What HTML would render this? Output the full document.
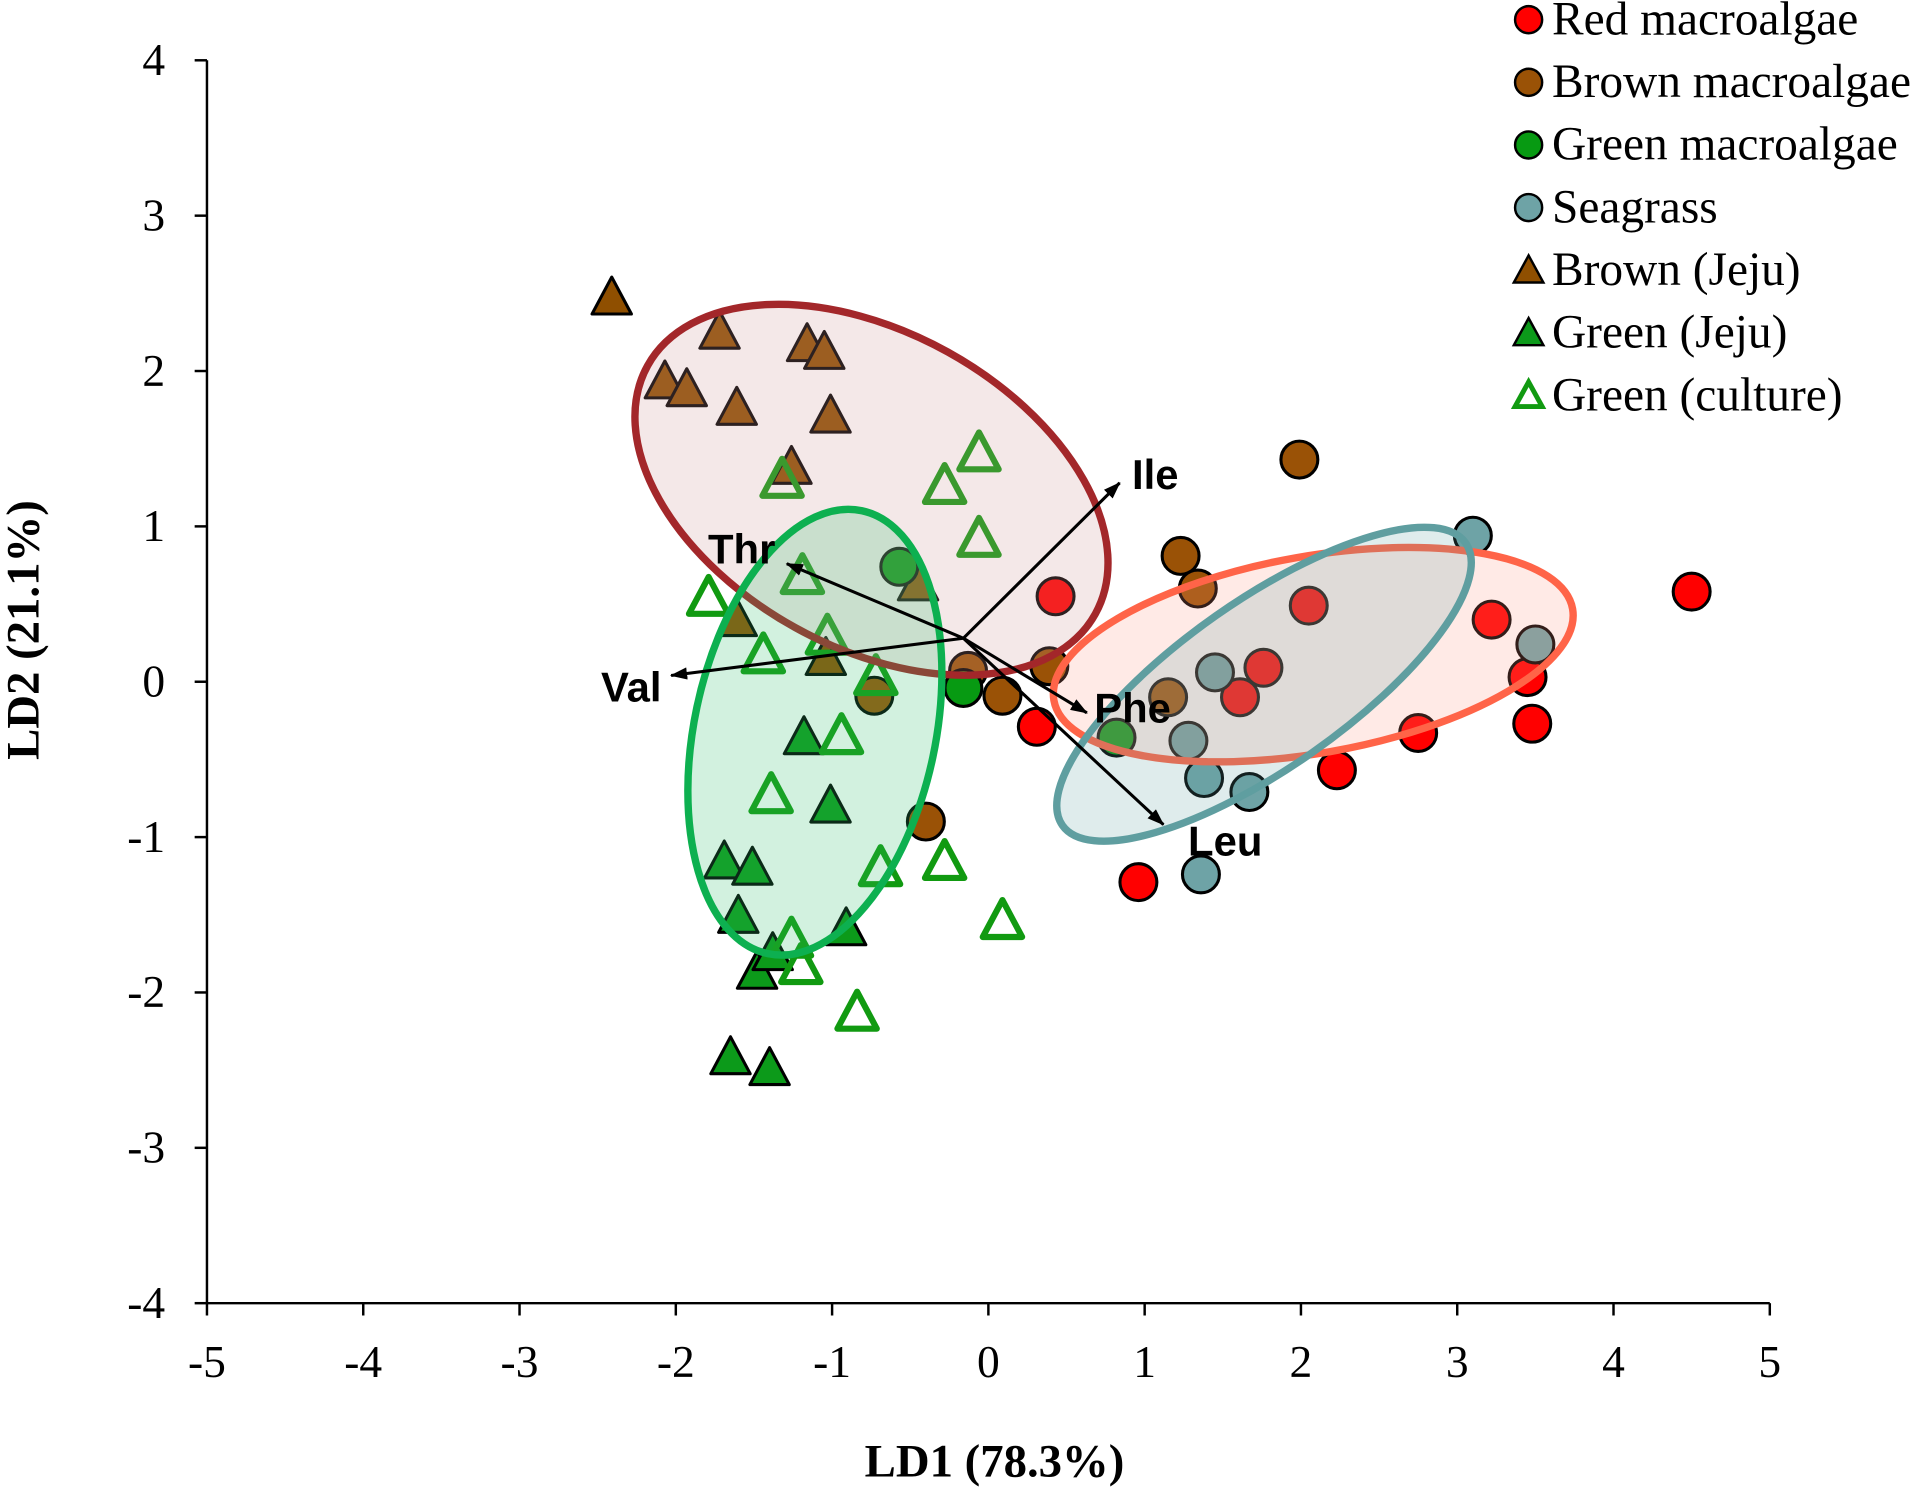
<!DOCTYPE html>
<html><head><meta charset="utf-8"><style>
html,body{margin:0;padding:0;background:#fff;}
svg{display:block;}
text{font-family:"Liberation Serif",serif;}
</style></head><body>
<svg id="chart" width="1930" height="1489" viewBox="0 0 1568 1210" xmlns="http://www.w3.org/2000/svg"></svg>
<script>
const xTicks=[-5,-4,-3,-2,-1,0,1,2,3,4,5];
const yTicks=[-4,-3,-2,-1,0,1,2,3,4];
const redX=[0.43,0.31,1.76,1.61,2.05,3.22,3.45,3.48,2.75,2.23,0.96,4.5];
const redY=[0.55,-0.29,0.09,-0.1,0.49,0.4,0.03,-0.27,-0.33,-0.57,-1.29,0.58];
const brownX=[1.99,1.23,1.34,0.39,-0.13,0.09,1.15,-0.73,-0.4];
const brownY=[1.43,0.81,0.6,0.1,0.07,-0.09,-0.1,-0.09,-0.9];
const greenX=[-0.57,-0.16,0.82];
const greenY=[0.74,-0.04,-0.36];
const seaX=[3.1,3.5,1.45,1.28,1.38,1.67,1.36];
const seaY=[0.94,0.24,0.06,-0.38,-0.62,-0.71,-1.24];
const bjX=[-2.41,-1.72,-2.07,-1.93,-1.61,-1.16,-1.05,-1.01,-1.26,-0.45,-1.61,-1.04];
const bjY=[2.47,2.25,1.93,1.88,1.76,2.17,2.12,1.71,1.38,0.63,0.4,0.15];
const gjX=[-1.18,-1.01,-1.69,-1.51,-1.6,-0.91,-1.48,-1.65,-1.4,-1.38];
const gjY=[-0.36,-0.8,-1.16,-1.2,-1.51,-1.59,-1.87,-2.42,-2.49,-1.75];
const gcX=[-0.06,-0.28,-1.32,-0.06,-1.79,-1.19,-1.03,-1.44,-0.72,-0.94,-1.39,-0.69,-0.28,0.09,-1.26,-1.2,-0.84];
const gcY=[1.47,1.26,1.3,0.92,0.54,0.68,0.29,0.17,0.03,-0.35,-0.73,-1.2,-1.16,-1.54,-1.66,-1.83,-2.13];
const vecNames=["Ile","Thr","Val","Phe","Leu"];
const vecX=[1.0,-1.13,-1.87,0.79,1.28];
const vecY=[1.0,0.48,-0.24,-0.48,-1.2];
const originX=-0.16, originY=0.28;

const S="http://www.w3.org/2000/svg";
const svg=document.getElementById('chart');
const X=v=>803+v*127;
const Y=v=>554-v*126.25;
function el(t,a,p){const e=document.createElementNS(S,t);for(const k in a)e.setAttribute(k,a[k]);(p||svg).appendChild(e);return e;}

const ax=el('g',{});


el('line',{x1:168,y1:49,x2:168,y2:1059,stroke:'#000','stroke-width':2},ax);
el('line',{x1:168,y1:1059,x2:1438,y2:1059,stroke:'#000','stroke-width':2},ax);
xTicks.forEach(t=>{
  el('line',{x1:X(t),y1:1059,x2:X(t),y2:1069,stroke:'#000','stroke-width':2},ax);
  const tx=el('text',{x:X(t),y:1119,'font-size':37,'text-anchor':'middle'},ax);tx.textContent=t;
  
  
});
yTicks.forEach(t=>{
  el('line',{x1:158,y1:Y(t),x2:168,y2:Y(t),stroke:'#000','stroke-width':2},ax);
  const tx=el('text',{x:134,y:Y(t)+12,'font-size':37,'text-anchor':'end'},ax);tx.textContent=t;
  
  
});
let xt=el('text',{x:808,y:1200,'font-size':38,'font-weight':'bold','text-anchor':'middle'});xt.textContent='LD1 (78.3%)';


let yt=el('text',{x:0,y:0,'font-size':38,'font-weight':'bold','text-anchor':'middle',transform:'translate(31,512) rotate(-90)'});yt.textContent='LD2 (21.1%)';



function circ(xs,ys,fill,name){const g=el('g',{});


xs.forEach((x,i)=>{const c=el('circle',{cx:X(x),cy:Y(ys[i]),r:15,fill:fill,stroke:'#000','stroke-width':2.5},g);

});}
function tri(xs,ys,fill,stroke,sw,name){const g=el('g',{});


xs.forEach((x,i)=>{const cx=X(x),cy=Y(ys[i]);
const p=el('polygon',{points:`${cx},${cy-17} ${cx-16},${cy+13} ${cx+16},${cy+13}`,fill:fill,stroke:stroke,'stroke-width':sw,'stroke-linejoin':'round'},g);

});}

tri(bjX,bjY,'#8f4f00','#000',2.5,'brown-jeju-series');
circ(brownX,brownY,'#9a5206','brown-macroalgae-series');
circ(redX,redY,'#ff0000','red-macroalgae-series');
circ(seaX,seaY,'#6ea3a6','seagrass-series');
circ(greenX,greenY,'#079a12','green-macroalgae-series');
tri(gjX,gjY,'#0c9a1a','#000',2.5,'green-jeju-series');
tri(gcX,gcY,'none','#119a11',5,'green-culture-series');

function ell(cx,cy,rx,ry,ang,stroke,fill,name){const e=el('ellipse',{cx:cx,cy:cy,rx:rx,ry:ry,transform:`rotate(${ang} ${cx} ${cy})`,fill:fill,stroke:stroke,'stroke-width':6});

}
ell(708,398,208,128,29,'#a3272a','rgba(205,150,150,0.22)','brown-ellipse');
ell(1067,532,214,80,-10,'#ff6448','rgba(255,150,130,0.2)','red-ellipse');
ell(1027,556,200,68,-35,'#5f9ea0','rgba(95,158,160,0.2)','seagrass-ellipse');
ell(662,595,184,98,-78,'#0db050','rgba(50,190,110,0.22)','green-ellipse');

el('defs',{}).innerHTML='<marker id="ah" markerWidth="14" markerHeight="10" refX="13" refY="5" orient="auto" markerUnits="userSpaceOnUse" viewBox="0 0 14 10"><path d="M0,0 L14,5 L0,10 z" fill="#000"/></marker>';
const lblOff={Ile:[10,5],Thr:[-64,0],Val:[-57,21],Phe:[6,8],Leu:[20,25]};
vecNames.forEach((n,i)=>{
  const x2=X(originX+vecX[i]),y2=Y(originY+vecY[i]);
  const l=el('line',{x1:X(originX),y1:Y(originY),x2:x2,y2:y2,stroke:'#000','stroke-width':2.5,'marker-end':'url(#ah)'});
  
  
  const t=el('text',{x:x2+lblOff[n][0],y:y2+lblOff[n][1],'font-size':34,'font-weight':'bold'});
  t.setAttribute('style','font-family:"Liberation Sans",sans-serif');
  t.textContent=n;
  
  
});

const leg=el('g',{});


const legNames=['Red macroalgae','Brown macroalgae','Green macroalgae','Seagrass','Brown (Jeju)','Green (Jeju)','Green (culture)'];
legNames.forEach((n,i)=>{
  const y=16+i*50.9;
  if(i<4){const f=['#ff0000','#9a5206','#079a12','#6ea3a6'][i];el('circle',{cx:1242,cy:y,r:11,fill:f,stroke:'#000','stroke-width':2},leg);}
  else if(i<6){const f=i==4?'#8f4f00':'#0c9a1a';el('polygon',{points:`1242,${y-12} 1230,${y+10} 1254,${y+10}`,fill:f,stroke:'#000','stroke-width':2},leg);}
  else el('polygon',{points:`1242,${y-11} 1231,${y+9} 1253,${y+9}`,fill:'none',stroke:'#119a11','stroke-width':4},leg);
  const t=el('text',{x:1261,y:y+12,'font-size':38.5},leg);t.textContent=n;
  
  
});
</script>
</body></html>
